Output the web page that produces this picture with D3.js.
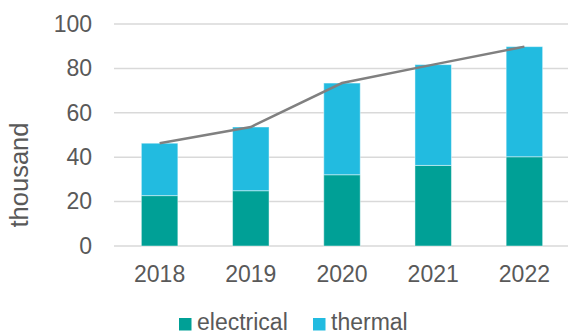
<!DOCTYPE html>
<html>
<head>
<meta charset="utf-8">
<script src="https://cdn.jsdelivr.net/npm/d3@7"></script>
<style>
  html, body { margin: 0; padding: 0; background: #fff; }
  svg { display: block; font-family: "Liberation Sans", Arial, sans-serif; }
</style>
</head>
<body>
<svg id="chart" width="568" height="335"></svg>
<script>
// Data: installations per year, in thousands
const years = ["2018", "2019", "2020", "2021", "2022"];
const electrical = [22.7, 24.9, 32.1, 36.3, 40.2];
const thermal = [23.6, 28.7, 41.3, 45.4, 49.6];
const totals = [46.3, 53.6, 73.4, 81.7, 89.8];
const yTicks = [0, 20, 40, 60, 80, 100];
const seriesNames = ["electrical", "thermal"];
const seriesColors = ["#00A096", "#22BBE0"];

const svg = d3.select("#chart");
const margin = { left: 114, right: -2, top: 24, bottom: 89 };
const W = 568, H = 335;
const fontFamily = '"Liberation Sans", Arial, sans-serif';

const x = d3.scaleBand().domain(years).range([margin.left, W - margin.right]).paddingInner(0.6).paddingOuter(0.3);
const y = d3.scaleLinear().domain([0, 100]).range([H - margin.bottom, margin.top]);

// Gridlines
svg.append("g").selectAll("line").data(yTicks).join("line")
  .attr("x1", margin.left).attr("x2", W)
  .attr("y1", d => y(d)).attr("y2", d => y(d))
  .attr("stroke", "#d9d9d9").attr("stroke-width", 1.5);

// Y axis labels
const yAxis = d3.axisLeft(y).tickValues(yTicks).tickSize(0).tickPadding(0);
const gy = svg.append("g").attr("transform", `translate(92,0)`).call(yAxis);
gy.select(".domain").remove();
gy.selectAll("text").attr("fill", "#595959").style("font-size", "23px")
  .style("font-family", fontFamily);

// X axis labels
const xAxis = d3.axisBottom(x).tickSize(0).tickPadding(0);
const gx = svg.append("g").attr("transform", `translate(0,${y(0) + 20})`).call(xAxis);
gx.select(".domain").remove();
gx.selectAll("text").attr("fill", "#595959").style("font-size", "23px")
  .style("font-family", fontFamily);

// Stacked bars
const rows = years.map((yr, i) => ({ year: yr, electrical: electrical[i], thermal: thermal[i] }));
const stack = d3.stack().keys(seriesNames)(rows);
const color = d3.scaleOrdinal().domain(seriesNames).range(seriesColors);

svg.append("g").selectAll("g").data(stack).join("g")
  .attr("fill", d => color(d.key))
  .selectAll("rect").data(d => d).join("rect")
  .attr("x", d => x(d.data.year))
  .attr("width", x.bandwidth())
  .attr("y", d => y(d[1]))
  .attr("height", d => y(d[0]) - y(d[1]))
  .attr("stroke", "rgba(255,255,255,0.45)")
  .attr("stroke-width", 1);

// Total line
const line = d3.line()
  .x((d, i) => x(years[i]) + x.bandwidth() / 2)
  .y(d => y(d));
svg.append("path").datum(totals)
  .attr("d", line)
  .attr("fill", "none")
  .attr("stroke", "#808080")
  .attr("stroke-width", 2.5);

// Y axis title
svg.append("text")
  .attr("transform", `translate(28,175) rotate(-90)`)
  .attr("text-anchor", "middle")
  .attr("fill", "#595959")
  .style("font-size", "25.5px")
  .text("thousand");

// Legend
const legend = svg.append("g");
const legendX = [179, 313];
seriesNames.forEach((name, i) => {
  legend.append("rect")
    .attr("x", legendX[i]).attr("y", 318)
    .attr("width", 12.5).attr("height", 12.5)
    .attr("fill", seriesColors[i]);
  legend.append("text")
    .attr("x", legendX[i] + 18).attr("y", 330)
    .attr("fill", "#595959")
    .style("font-size", "23px")
    .text(name);
});
</script>
</body>
</html>
